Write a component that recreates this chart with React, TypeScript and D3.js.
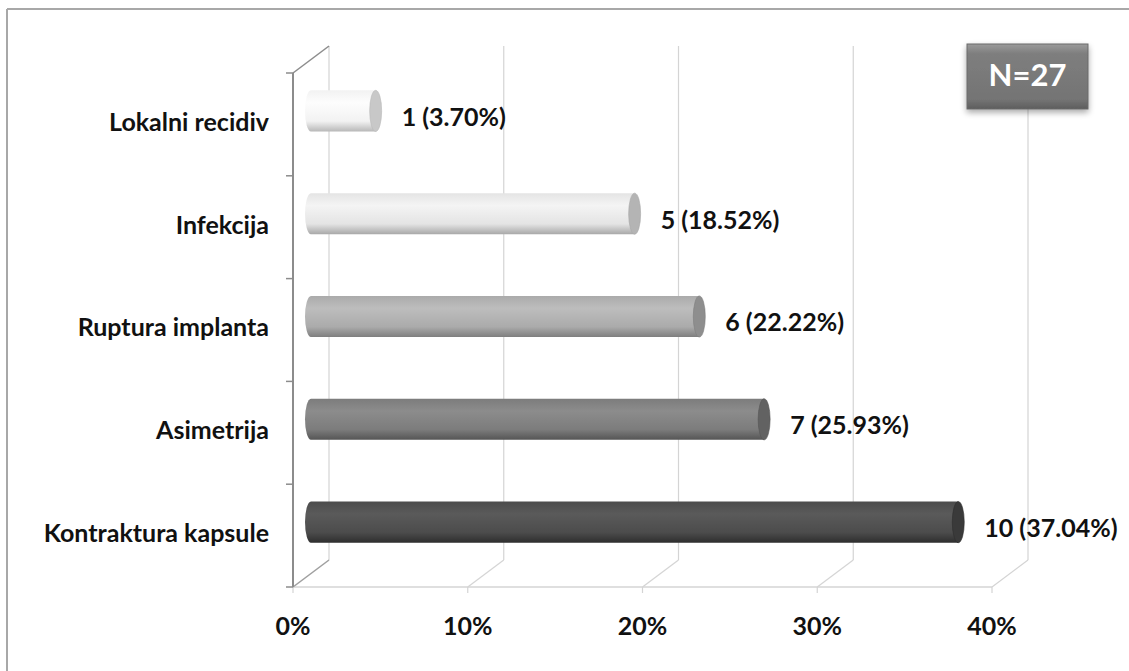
import React from "react";
import * as d3 from "d3";

const categories = ["Lokalni recidiv", "Infekcija", "Ruptura implanta", "Asimetrija", "Kontraktura kapsule"];
const counts = [1, 5, 6, 7, 10];
const percents = [3.7, 18.52, 22.22, 25.93, 37.04];
const xTicks = [0, 10, 20, 30, 40];
const totalN = 27;
const barColors = [
  ["#fdfdfd", "#f2f2f2", "#b8b8b8", "#c8c8c8"],
  ["#f4f4f4", "#e4e4e4", "#a8a8a8", "#b4b4b4"],
  ["#bdbdbd", "#ababab", "#7e7e7e", "#8e8e8e"],
  ["#8c8c8c", "#7c7c7c", "#555555", "#626262"],
  ["#5a5a5a", "#4c4c4c", "#2e2e2e", "#3a3a3a"],
];

const W = 1129;
const H = 671;
const FONT = "Lato, 'Open Sans', sans-serif";

export default function App() {
  const x = d3.scaleLinear().domain([0, 40]).range([293, 992]);
  const y = d3.scaleBand<string>().domain(categories).range([73, 587]).paddingInner(0.6).paddingOuter(0.3);
  const yBand = d3.scaleBand<string>().domain(categories).range([73, 587]);
  const DX = 36;
  const DY = -27;
  const bottom = 587;
  const top = 73;
  const bh = y.bandwidth();
  const rx = 6;
  const ry = bh / 2;

  return (
    <svg width={W} height={H} style={{ position: "absolute", left: 0, top: 0, background: "#fff" }} fontFamily={FONT}>
      <defs>
        {barColors.map((c, i) => (
          <linearGradient key={i} id={`g${i}`} x1="0" y1="0" x2="0" y2="1">
            <stop offset="0" stopColor={c[1]} />
            <stop offset="0.3" stopColor={c[0]} />
            <stop offset="0.75" stopColor={c[1]} />
            <stop offset="1" stopColor={c[2]} />
          </linearGradient>
        ))}
        <linearGradient id="nbox" x1="0" y1="0" x2="0" y2="1">
          <stop offset="0" stopColor="#9a9a9a" />
          <stop offset="0.15" stopColor="#7e7e7e" />
          <stop offset="0.85" stopColor="#747474" />
          <stop offset="1" stopColor="#5e5e5e" />
        </linearGradient>
        <filter id="shadow" x="-20%" y="-20%" width="140%" height="150%">
          <feGaussianBlur in="SourceAlpha" stdDeviation="3" />
          <feOffset dx="0" dy="3" result="b" />
          <feComponentTransfer><feFuncA type="linear" slope="0.35" /></feComponentTransfer>
          <feMerge><feMergeNode /><feMergeNode in="SourceGraphic" /></feMerge>
        </filter>
      </defs>

      {/* outer border */}
      <line x1={7} y1={9} x2={W} y2={9} stroke="#a8a8a8" strokeWidth={2} />
      <line x1={7} y1={9} x2={7} y2={H} stroke="#a8a8a8" strokeWidth={2} />

      {/* back wall gridlines */}
      {xTicks.map((t) => (
        <line key={`bg${t}`} x1={x(t) + DX} y1={top + DY} x2={x(t) + DX} y2={bottom + DY} stroke="#d4d4d4" strokeWidth={1.2} />
      ))}
      {/* floor diagonals */}
      {xTicks.map((t) => (
        <line key={`fd${t}`} x1={x(t)} y1={bottom} x2={x(t) + DX} y2={bottom + DY} stroke="#d4d4d4" strokeWidth={1.2} />
      ))}
      {/* floor front edge */}
      <line x1={x(0)} y1={bottom} x2={x(40)} y2={bottom} stroke="#d4d4d4" strokeWidth={1.5} />
      {xTicks.map((t) => (
        <line key={`bt${t}`} x1={x(t)} y1={bottom} x2={x(t)} y2={bottom + 6} stroke="#d4d4d4" strokeWidth={1.2} />
      ))}
      {/* left wall */}
      <line x1={x(0)} y1={top} x2={x(0) + DX} y2={top + DY} stroke="#8c8c8c" strokeWidth={1.5} />
      <line x1={x(0)} y1={bottom} x2={x(0) + DX} y2={bottom + DY} stroke="#a0a0a0" strokeWidth={1.2} />
      <line x1={x(0)} y1={top} x2={x(0)} y2={bottom} stroke="#8c8c8c" strokeWidth={2} />
      {categories.map((c) => (
        <line key={`lt${c}`} x1={x(0) - 7} y1={yBand(c)!} x2={x(0)} y2={yBand(c)!} stroke="#8c8c8c" strokeWidth={1.5} />
      ))}
      <line x1={x(0) - 7} y1={bottom} x2={x(0)} y2={bottom} stroke="#8c8c8c" strokeWidth={1.5} />

      {/* bars (cylinders) */}
      {categories.map((c, i) => {
        const y0 = y(c)! + DY / 2;
        const cy = y0 + ry;
        const xs = x(0) + DX / 2;
        const xe = x(percents[i]) + DX / 2;
        const path = `M${xs},${y0} L${xe},${y0} L${xe},${y0 + bh} L${xs},${y0 + bh} A${rx},${ry} 0 0 1 ${xs},${y0} Z`;
        return (
          <g key={`bar${c}`}>
            <path d={path} fill={`url(#g${i})`} />
            <ellipse cx={xe} cy={cy} rx={rx} ry={ry} fill={barColors[i][3]} stroke={barColors[i][2]} strokeWidth={0.6} />
          </g>
        );
      })}

      {/* value labels */}
      {categories.map((c, i) => (
        <text key={`vl${c}`} x={x(percents[i]) + DX / 2 + rx + 20} y={yBand(c)! + yBand.bandwidth() / 2 - 5} dominantBaseline="middle" fontSize={25} fontWeight="bold" fill="#111">
          {`${counts[i]} (${percents[i].toFixed(2)}%)`}
        </text>
      ))}

      {/* category labels */}
      {categories.map((c) => (
        <text key={`cl${c}`} x={269} y={yBand(c)! + yBand.bandwidth() / 2} dominantBaseline="middle" textAnchor="end" fontSize={25} fontWeight="bold" fill="#111">
          {c}
        </text>
      ))}

      {/* x tick labels */}
      {xTicks.map((t) => (
        <text key={`xl${t}`} x={x(t)} y={629} dominantBaseline="middle" textAnchor="middle" fontSize={25} fontWeight="bold" fill="#111">
          {`${t}%`}
        </text>
      ))}

      {/* N box */}
      <g filter="url(#shadow)">
        <rect x={967} y={44} width={121} height={65} fill="url(#nbox)" stroke="#6a6a6a" strokeWidth={1} />
      </g>
      <text x={1027.5} y={78} dominantBaseline="middle" textAnchor="middle" fontSize={31} fontWeight="bold" fill="#fff">
        {`N=${totalN}`}
      </text>
    </svg>
  );
}
